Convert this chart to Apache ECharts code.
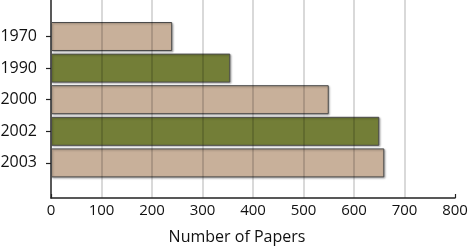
<!DOCTYPE html>
<html><head><meta charset="utf-8">
<script src="https://cdn.jsdelivr.net/npm/echarts@6/dist/echarts.min.js"></script>
<style>html,body{margin:0;padding:0;background:#fff}#c{width:470px;height:247px}</style>
</head><body><div id="c"></div>
<script>
const categories = ['1970', '1990', '2000', '2002', '2003'];
const papers = [240, 355, 550, 650, 660];
const barColors = ['#c8b09a', '#737e37', '#c8b09a', '#737e37', '#c8b09a'];
const xTicks = [0, 100, 200, 300, 400, 500, 600, 700, 800];
const xTitle = 'Number of Papers';

const font = 'Open Sans';
const chart = echarts.init(document.getElementById('c'));
chart.setOption({
  animation: false,
  grid: [
    {left: 51, right: 15, top: 20.7, height: 158, containLabel: false, outerBoundsMode: 'none'},
    {left: 51, right: 15, top: 0, bottom: 49, containLabel: false, outerBoundsMode: 'none'}
  ],
  xAxis: [
    {gridIndex: 0, type: 'value', position: 'bottom', min: xTicks[0], max: xTicks[xTicks.length-1], show: false},
    {gridIndex: 1, type: 'value', position: 'bottom', min: xTicks[0], max: xTicks[xTicks.length-1], interval: 100, z: 3,
     axisLine: {show: true, lineStyle: {color: '#222', width: 1.5}},
     axisTick: {show: false},
     axisLabel: {margin: 5, color: '#111', fontFamily: font, fontSize: 15},
     splitLine: {show: true, showMinLine: false, showMaxLine: false, lineStyle: {color: 'rgba(0,0,0,0.2)', width: 1.5}},
     name: xTitle, nameLocation: 'middle', nameGap: 31,
     nameTextStyle: {color: '#111', fontFamily: font, fontSize: 16, padding: [0, 32, 0, 0]}},
    {gridIndex: 1, type: 'value', position: 'bottom', min: 0, max: 800, interval: 800, z: 3,
     axisLine: {show: false}, axisLabel: {show: false}, splitLine: {show: false},
     axisTick: {show: true, inside: true, length: 4, lineStyle: {color: '#222', width: 1.2}}}
  ],
  yAxis: [
    {gridIndex: 0, type: 'category', position: 'left', data: categories, inverse: true,
     axisLine: {show: false},
     axisTick: {show: true, alignWithLabel: true, length: 5, lineStyle: {color: '#222', width: 1.2}},
     axisLabel: {margin: 14, color: '#111', fontFamily: font, fontSize: 16}},
    {gridIndex: 1, type: 'value', position: 'left', min: 0, max: 1, show: true,
     axisLine: {show: true, lineStyle: {color: '#222', width: 1.5}},
     axisTick: {show: false}, axisLabel: {show: false}, splitLine: {show: false}}
  ],
  series: [{
    type: 'bar', xAxisIndex: 0, yAxisIndex: 0, barWidth: 29, z: 2,
    data: papers.map((v, i) => ({value: v, itemStyle: {color: barColors[i]}})),
    itemStyle: {borderColor: '#4a4a4a', borderWidth: 1, shadowBlur: 2, shadowOffsetX: 1, shadowOffsetY: 1, shadowColor: 'rgba(0,0,0,0.3)'}
  }]
});
</script></body></html>
